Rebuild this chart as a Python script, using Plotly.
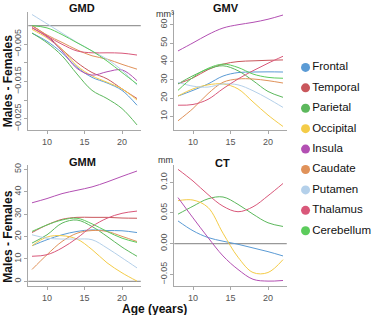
import plotly.graph_objects as go

W, H = 373, 315

ages = [8, 10, 12, 14, 16, 18, 20, 22]
regions = ["Frontal", "Temporal", "Parietal", "Occipital", "Insula",
           "Caudate", "Putamen", "Thalamus", "Cerebellum"]
colors = ["#5b9bd5", "#c9575c", "#5cb85c", "#f4cc48", "#b350b3",
          "#e0925a", "#b4d0ea", "#d9587a", "#5ccc5c"]

# GMD
gmd_frontal = [-0.002, -0.0042, -0.0073, -0.0112, -0.0139, -0.0154, -0.0174, -0.0214]
gmd_temporal = [0.0, -0.0027, -0.0064, -0.0099, -0.0126, -0.0143, -0.017, -0.0196]
gmd_parietal = [-0.002, -0.0046, -0.0081, -0.013, -0.0174, -0.0196, -0.0223, -0.0267]
gmd_occipital = [-0.001, -0.0033, -0.0064, -0.0108, -0.0135, -0.0152, -0.017, -0.020]
gmd_insula = [-0.0005, -0.003, -0.0068, -0.0115, -0.0133, -0.0124, -0.0119, -0.0148]
gmd_caudate = [0.0, -0.0025, -0.0045, -0.0065, -0.0081, -0.009, -0.0104, -0.0117]
gmd_putamen = [0.003, 0.0005, -0.002, -0.0045, -0.0068, -0.009, -0.012, -0.016]
gmd_thalamus = [-0.0006, -0.0028, -0.005, -0.0068, -0.0073, -0.0073, -0.0074, -0.0079]
gmd_cerebellum = [0.0, -0.0006, -0.0024, -0.0046, -0.0068, -0.0095, -0.0126, -0.0157]

# GMV
gmv_frontal = [21.1, 24.2, 27.7, 32.0, 33.9, 34.2, 34.3, 34.2]
gmv_temporal = [27.8, 31.0, 35.5, 38.5, 39.9, 40.3, 40.6, 40.8]
gmv_parietal = [27.7, 32.2, 35.8, 37.6, 34.9, 29.5, 23.6, 20.4]
gmv_occipital = [21.1, 25.0, 27.2, 27.7, 25.0, 17.9, 10.7, 4.5]
gmv_insula = [45.7, 50.1, 54.6, 58.2, 60.0, 61.3, 63.0, 65.3]
gmv_caudate = [7.6, 14.3, 22.4, 28.6, 30.4, 30.4, 29.5, 28.2]
gmv_putamen = [28.6, 26.5, 26.0, 27.7, 27.2, 24.0, 19.7, 14.9]
gmv_thalamus = [16.1, 16.5, 19.3, 25.1, 30.4, 34.9, 39.0, 42.8]
gmv_cerebellum = [24.2, 31.3, 36.2, 38.5, 36.7, 33.1, 31.3, 30.8]

# GMM
gmm_frontal = [15.9, 18.6, 20.8, 22.3, 23.0, 22.7, 22.6, 21.8]
gmm_temporal = [21.8, 25.2, 27.7, 28.6, 28.6, 28.6, 28.3, 28.2]
gmm_parietal = [17.1, 20.8, 26.0, 27.4, 24.5, 20.1, 15.3, 11.2]
gmm_occipital = [15.9, 19.8, 20.4, 18.9, 14.2, 8.3, 3.8, 0.1]
gmm_insula = [35.1, 37.0, 39.2, 40.7, 42.2, 44.4, 46.9, 49.3]
gmm_caudate = [5.3, 11.9, 17.8, 21.5, 22.7, 22.3, 20.1, 17.8]
gmm_putamen = [20.8, 19.3, 18.9, 18.9, 18.6, 14.9, 10.5, 6.0]
gmm_thalamus = [11.2, 11.9, 14.9, 19.3, 24.5, 28.2, 30.4, 31.4]
gmm_cerebellum = [22.3, 25.2, 27.4, 28.2, 25.7, 22.3, 19.3, 17.4]

# CT
ct_frontal = [0.037, 0.021, 0.010, 0.004, -0.001, -0.007, -0.013, -0.020]
ct_parietal = [0.048, 0.061, 0.073, 0.076, 0.064, 0.048, 0.034, 0.028]
ct_occipital = [0.070, 0.071, 0.059, 0.017, -0.022, -0.047, -0.047, -0.026]
ct_insula = [0.075, 0.042, 0.010, -0.020, -0.042, -0.058, -0.061, -0.060]
ct_thalamus = [0.121, 0.102, 0.080, 0.061, 0.052, 0.060, 0.078, 0.098]

panels = [
    ("x", "y", {
        "Frontal": gmd_frontal, "Temporal": gmd_temporal, "Parietal": gmd_parietal,
        "Occipital": gmd_occipital, "Insula": gmd_insula, "Caudate": gmd_caudate,
        "Putamen": gmd_putamen, "Thalamus": gmd_thalamus, "Cerebellum": gmd_cerebellum}),
    ("x2", "y2", {
        "Frontal": gmv_frontal, "Temporal": gmv_temporal, "Parietal": gmv_parietal,
        "Occipital": gmv_occipital, "Insula": gmv_insula, "Caudate": gmv_caudate,
        "Putamen": gmv_putamen, "Thalamus": gmv_thalamus, "Cerebellum": gmv_cerebellum}),
    ("x3", "y3", {
        "Frontal": gmm_frontal, "Temporal": gmm_temporal, "Parietal": gmm_parietal,
        "Occipital": gmm_occipital, "Insula": gmm_insula, "Caudate": gmm_caudate,
        "Putamen": gmm_putamen, "Thalamus": gmm_thalamus, "Cerebellum": gmm_cerebellum}),
    ("x4", "y4", {
        "Frontal": ct_frontal, "Parietal": ct_parietal, "Occipital": ct_occipital,
        "Insula": ct_insula, "Thalamus": ct_thalamus}),
]

color_of = dict(zip(regions, colors))
FONT = "Liberation Sans, Arial, sans-serif"

fig = go.Figure()
for xa, ya, series in panels:
    for name, vals in series.items():
        fig.add_trace(go.Scatter(
            x=ages, y=vals, mode="lines", xaxis=xa, yaxis=ya, name=name,
            line=dict(color=color_of[name], width=1, shape="spline", smoothing=1.0),
            showlegend=False, hoverinfo="skip"))

# key: one circle per region, on its own categorical axis at the right
fig.add_trace(go.Scatter(
    x=[0] * len(regions), y=regions, mode="markers+text", text=regions,
    textposition="middle right", xaxis="x5", yaxis="y5", cliponaxis=False,
    textfont=dict(size=11.5, color="#111", family=FONT),
    marker=dict(color=colors, size=9, symbol="circle"),
    showlegend=False, hoverinfo="skip"))


def xd(a, b):
    return [a / W, b / W]


def yd(top, bottom):
    return [1 - bottom / H, 1 - top / H]


axis_common = dict(showline=True, linecolor="#a8a8a8", linewidth=1, ticks="outside",
                   ticklen=3, tickcolor="#a8a8a8",
                   tickfont=dict(size=9, color="#555", family=FONT),
                   showgrid=False, zeroline=False, fixedrange=True)

xcommon = dict(axis_common, range=[7.5, 22.5], tickvals=[10, 15, 20])

left = xd(28.25, 140.75)
right = xd(174.25, 286.75)
top = yd(10, 129)
bot = yd(165, 287)

fig.update_layout(
    width=W, height=H,
    margin=dict(l=0, r=0, t=0, b=0),
    paper_bgcolor="white", plot_bgcolor="white",
    font=dict(family=FONT, color="#111"),
    showlegend=False,
    xaxis=dict(xcommon, domain=left, anchor="y"),
    xaxis2=dict(xcommon, domain=right, anchor="y2"),
    xaxis3=dict(xcommon, domain=left, anchor="y3"),
    xaxis4=dict(xcommon, domain=right, anchor="y4"),
    yaxis=dict(axis_common, domain=top, anchor="x", range=[-0.028, 0.0037],
               tickvals=[-0.005, -0.010, -0.015, -0.020, -0.025],
               ticktext=["\u22120.005", "", "\u22120.015", "", "\u22120.025"], tickangle=-90),
    yaxis2=dict(axis_common, domain=top, anchor="x2", range=[2.7, 67],
                tickvals=[10, 20, 30, 40, 50, 60], tickangle=-90),
    yaxis3=dict(axis_common, domain=bot, anchor="x3", range=[-2.2, 51.8],
                tickvals=[0, 10, 20, 30, 40, 50], tickangle=-90),
    yaxis4=dict(axis_common, domain=bot, anchor="x4", range=[-0.0694, 0.1274],
                tickvals=[-0.05, 0.0, 0.05, 0.10],
                ticktext=["\u22120.05", "0.00", "0.05", "0.10"], tickangle=-90),
    xaxis5=dict(domain=[295 / W, 1.0], range=[-1, 6.4], visible=False,
                fixedrange=True, anchor="y5"),
    yaxis5=dict(domain=yd(55.7, 241.3), type="category", categoryorder="array",
                categoryarray=regions, range=[8.5, -0.5], visible=False,
                fixedrange=True, anchor="x5"),
)

# zero reference lines
for xa, ya in [("x", "y"), ("x3", "y3"), ("x4", "y4")]:
    fig.add_shape(type="line", xref=xa + " domain", yref=ya, x0=0, x1=1, y0=0, y1=0,
                  line=dict(color="#999", width=1.2), layer="below")

title_font = dict(size=11, color="#111", family=FONT)
for text, cx, cy in [("<b>GMD</b>", 82, 6), ("<b>GMV</b>", 226, 6),
                     ("<b>GMM</b>", 82, 162), ("<b>CT</b>", 223, 163)]:
    fig.add_annotation(text=text, x=cx / W, y=1 - cy / H, xref="paper", yref="paper",
                       showarrow=False, xanchor="center", yanchor="middle", font=title_font)

for text, cx, cy in [("mm\u00b3", 165, 12), ("mm", 165, 160)]:
    fig.add_annotation(text=text, x=cx / W, y=1 - cy / H, xref="paper", yref="paper",
                       showarrow=False, xanchor="center", yanchor="middle",
                       font=dict(size=9, color="#333", family=FONT))

label_font = dict(size=12, color="#111", family=FONT)
for cy in [80, 237]:
    fig.add_annotation(text="<b>Males - Females</b>", x=8 / W, y=1 - cy / H,
                       xref="paper", yref="paper", showarrow=False, textangle=-90,
                       xanchor="center", yanchor="middle", font=label_font)

fig.add_annotation(text="<b>Age (years)</b>", x=154 / W, y=1 - 310 / H, xref="paper",
                   yref="paper", showarrow=False, xanchor="center", yanchor="middle",
                   font=label_font)

fig.write_html("out.html")
